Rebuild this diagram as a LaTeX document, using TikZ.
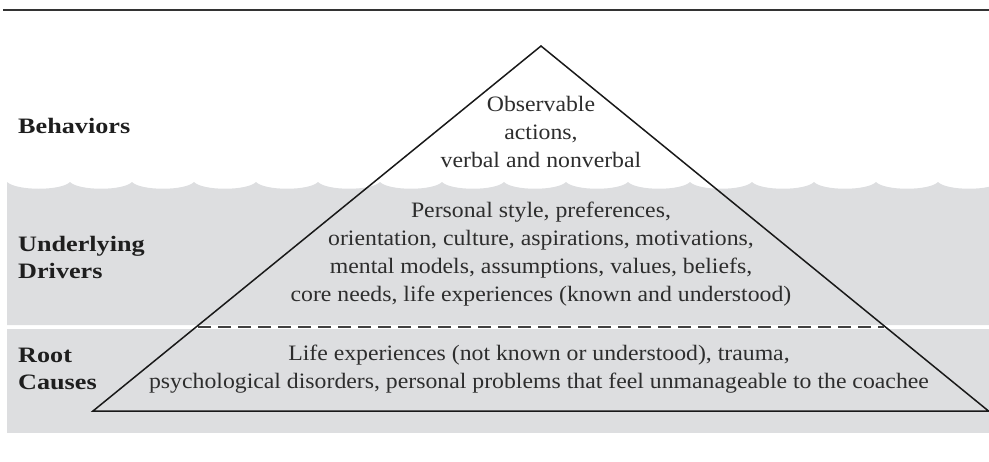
\documentclass[tikz,border=0pt]{standalone}
\usepackage{fontspec}
\setmainfont{Liberation Serif}[FakeStretch=1.08]
\newfontfamily\lblfont{Liberation Serif}[FakeStretch=1.19]
\definecolor{bandgray}{RGB}{221,222,224}
\definecolor{txt}{RGB}{45,45,45}
\definecolor{lbl}{RGB}{30,30,30}
\begin{document}
\begin{tikzpicture}[x=1pt,y=-1pt,
  body/.style={align=center,text=txt,font=\fontsize{22}{28}\selectfont,inner sep=0pt},
  label/.style={align=left,anchor=west,text=lbl,font=\lblfont\fontsize{22}{27}\selectfont\bfseries,inner sep=0pt}]
\useasboundingbox (0,0) rectangle (989,461);
% top rule
\draw[line width=2pt,color=black!80] (3,10) -- (989,10);
% gray bands
\begin{scope}
\clip (0,0) rectangle (989,461);
\fill[bandgray] (7,325) -- (7,182)
  \foreach \k in {0,...,15} { .. controls ({8+62*\k+9},191) and ({8+62*\k+53},191) .. ({8+62*(\k+1)},182) }
  -- (1010,182) -- (1010,325) -- cycle;
\fill[bandgray] (7,329) rectangle (1010,433);
\end{scope}
% pyramid
\coordinate (apex) at (541,46);
\coordinate (bl) at (93,411);
\coordinate (br) at (988.5,411);
\draw[line width=1.5pt,color=black!90,line join=miter] (bl) -- (apex) -- (br) -- cycle;
\coordinate (dl) at (198,327);
\coordinate (dr) at (884,327);
\draw[line width=1.2pt,color=black!75,dash pattern=on 13pt off 7pt] (dl) -- (dr);
% texts
\node[body] (beh) at (541,132) {Observable\\actions,\\verbal and nonverbal};
\node[body] (und) at (541,254) {Personal style, preferences,\\orientation, culture, aspirations, motivations,\\mental models, assumptions, values, beliefs,\\core needs, life experiences (known and understood)};
\node[body] (root) at (539,369) {Life experiences (not known or understood), trauma,\\psychological disorders, personal problems that feel unmanageable to the coachee};
\node[label] (lb) at (18,126) {Behaviors};
\node[label] (lu) at (18,257) {Underlying\\Drivers};
\node[label] (lr) at (18,369) {Root\\Causes};
\end{tikzpicture}
\end{document}
